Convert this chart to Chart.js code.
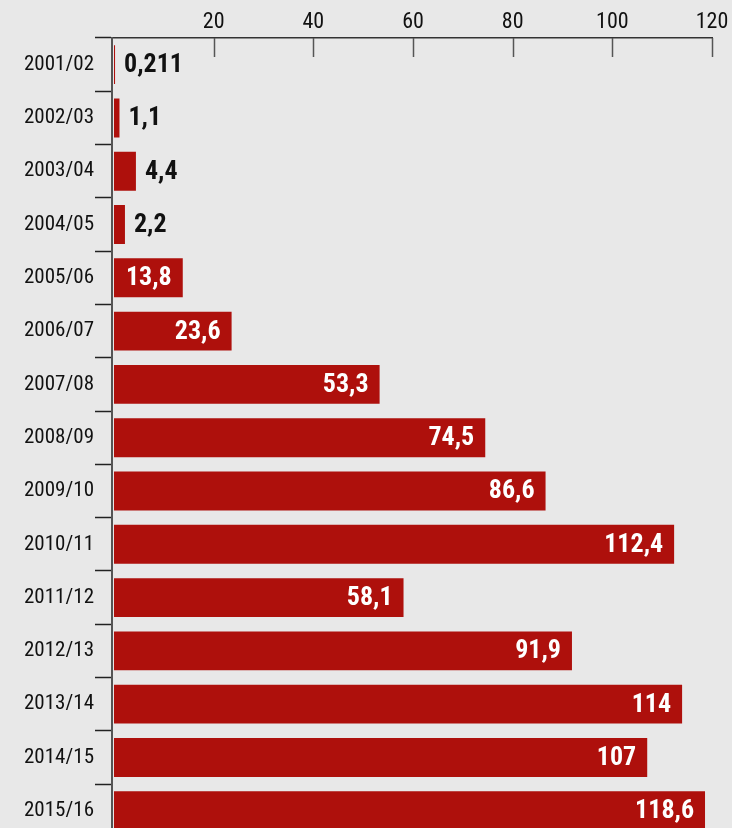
<!DOCTYPE html>
<html>
<head>
<meta charset="utf-8">
<script src="https://cdn.jsdelivr.net/npm/chart.js@4.4.0/dist/chart.umd.min.js"></script>
<style>
html, body { margin: 0; padding: 0; background: #e8e8e8; overflow: hidden; }
canvas { display: block; }
</style>
</head>
<body>
<canvas id="chart" width="732" height="851"></canvas>
<script>
var seasons = ["2001/02", "2002/03", "2003/04", "2004/05", "2005/06", "2006/07", "2007/08",
    "2008/09", "2009/10", "2010/11", "2011/12", "2012/13", "2013/14", "2014/15", "2015/16"];
var values = [0.211, 1.1, 4.4, 2.2, 13.8, 23.6, 53.3, 74.5, 86.6, 112.4, 58.1, 91.9, 114, 107, 118.6];
var xTicks = [20, 40, 60, 80, 100, 120];

var fontFamily = "'Roboto Condensed', 'Liberation Sans Narrow', sans-serif";

// numbers on / next to the bars
var valueLabels = {
    id: 'valueLabels',
    afterDatasetsDraw: function(chart) {
        var ctx = chart.ctx;
        var meta = chart.getDatasetMeta(0);
        ctx.save();
        ctx.font = 'bold 26px ' + fontFamily;
        ctx.textBaseline = 'middle';
        meta.data.forEach(function(bar, i) {
            var v = values[i];
            var txt = String(v).replace('.', ',');
            if (v < 10) {
                ctx.fillStyle = '#111';
                ctx.textAlign = 'left';
                ctx.fillText(txt, bar.x + 9, bar.y + 1);
            } else {
                ctx.fillStyle = '#fff';
                ctx.textAlign = 'right';
                ctx.fillText(txt, bar.x - 11, bar.y + 1);
            }
        });
        ctx.restore();
    }
};

// short tick marks pointing down from the top axis
var innerTicks = {
    id: 'innerTicks',
    afterDraw: function(chart) {
        var ctx = chart.ctx;
        var xs = chart.scales.x;
        var top = chart.chartArea.top;
        ctx.save();
        ctx.strokeStyle = '#555';
        ctx.lineWidth = 1.5;
        xTicks.forEach(function(t) {
            var px = Math.round(xs.getPixelForValue(t)) + 0.5;
            ctx.beginPath();
            ctx.moveTo(px, top);
            ctx.lineTo(px, top + 19);
            ctx.stroke();
        });
        ctx.restore();
    }
};

var ctx = document.getElementById('chart').getContext('2d');
var chart = new Chart(ctx, {
    type: 'bar',
    data: {
        labels: seasons,
        datasets: [{
            data: values,
            backgroundColor: '#ae100c',
            borderWidth: 0,
            barPercentage: 0.73,
            categoryPercentage: 1
        }]
    },
    options: {
        indexAxis: 'y',
        responsive: false,
        animation: false,
        layout: { padding: { left: 0, right: 20, top: 0, bottom: 0 } },
        plugins: {
            legend: { display: false },
            tooltip: { enabled: false }
        },
        scales: {
            x: {
                position: 'top',
                min: -0.4,
                max: 120,
                afterBuildTicks: function(scale) {
                    scale.ticks = xTicks.map(function(v) { return { value: v }; });
                },
                afterFit: function(scale) { scale.height = 38; },
                grid: { display: false, drawTicks: false },
                border: { display: true, color: '#333', width: 1.5 },
                ticks: {
                    padding: 2,
                    color: '#111',
                    font: { family: fontFamily, size: 22 }
                }
            },
            y: {
                afterFit: function(scale) { scale.width = 112; },
                grid: {
                    display: true,
                    drawOnChartArea: false,
                    tickLength: 17,
                    tickColor: '#222',
                    tickWidth: 1.5
                },
                border: { display: true, color: '#555', width: 2 },
                ticks: {
                    padding: 1,
                    color: '#111',
                    font: { family: fontFamily, size: 21 }
                }
            }
        }
    },
    plugins: [valueLabels, innerTicks]
});
</script>
</body>
</html>
